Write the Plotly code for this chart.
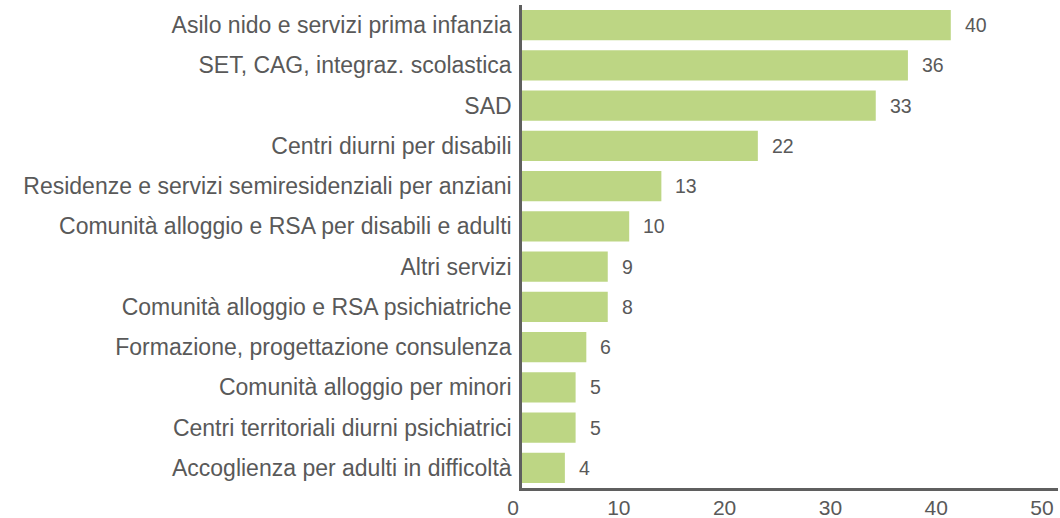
import plotly.graph_objects as go

categories = [
    "Asilo nido e servizi prima infanzia",
    "SET, CAG, integraz. scolastica",
    "SAD",
    "Centri diurni per disabili",
    "Residenze e servizi semiresidenziali per anziani",
    "Comunità alloggio e RSA per disabili e adulti",
    "Altri servizi",
    "Comunità alloggio e RSA psichiatriche",
    "Formazione, progettazione consulenza",
    "Comunità alloggio per minori",
    "Centri territoriali diurni psichiatrici",
    "Accoglienza per adulti in difficoltà",
]
# bar lengths as drawn
values = [40, 36, 33, 22, 13, 10, 8, 8, 6, 5, 5, 4]
# numbers printed beside the bars
value_labels = ["40", "36", "33", "22", "13", "10", "9", "8", "6", "5", "5", "4"]
tick_vals = [0, 10, 20, 30, 40, 50]
tick_text = ["0", "10", "20", "30", "40", "50"]

BAR = "#bdd684"
TXT = "#595959"
FONT = "Liberation Sans, Arial, sans-serif"

W, H = 1060, 518
L, R, T, B = 513, 2, 5, 30
plot_w = W - L - R
x_start = (522 - L) / plot_w
x2_end = (1042 - L) / plot_w
n = len(categories)

fig = go.Figure()
fig.add_trace(go.Bar(
    y=categories, x=values, orientation="h",
    marker=dict(color=BAR, line=dict(width=0)),
    xaxis="x", yaxis="y", hoverinfo="skip",
))
# invisible helper trace so the tick-label axis renders
fig.add_trace(go.Scatter(
    x=[tick_vals[0], tick_vals[-1]], y=[categories[0], categories[0]],
    mode="markers", marker=dict(opacity=0, size=1), xaxis="x2", yaxis="y",
    hoverinfo="skip", showlegend=False,
))

for c, v, lab in zip(categories, values, value_labels):
    fig.add_annotation(
        x=v, y=c, xref="x", yref="y", text=lab, showarrow=False,
        xanchor="left", xshift=12, font=dict(family=FONT, size=19.5, color=TXT),
    )

fig.update_layout(
    width=W, height=H,
    margin=dict(l=L, r=R, t=T, b=B, autoexpand=False),
    paper_bgcolor="white", plot_bgcolor="rgba(0,0,0,0)",
    showlegend=False, bargap=0.25,
    font=dict(family=FONT, color=TXT),
    xaxis=dict(
        domain=[x_start, 1], range=[0, 50], showgrid=False, zeroline=False,
        showline=True, linecolor="#5f5f5f", linewidth=2.5,
        showticklabels=False, ticks="", fixedrange=True, automargin=False,
    ),
    xaxis2=dict(
        domain=[0, x2_end], range=[0, 50], anchor="free", position=0,
        showgrid=False, zeroline=False, showline=False,
        tickvals=tick_vals, ticktext=tick_text, ticks="", automargin=False,
        tickfont=dict(family=FONT, size=21, color=TXT), ticklabelstandoff=5,
    ),
    yaxis=dict(
        categoryorder="array", categoryarray=categories[::-1],
        range=[-0.5, n - 0.5],
        anchor="x", showgrid=False, zeroline=False, automargin=False,
        showline=True, linecolor="#5f5f5f", linewidth=2.5, ticks="",
        tickfont=dict(family=FONT, size=23, color=TXT), ticklabelstandoff=3,
    ),
)

fig.write_html(
    "out.html",
    config={"displayModeBar": False},
    post_script="document.body.style.margin='0px';document.body.style.overflow='hidden';",
)
